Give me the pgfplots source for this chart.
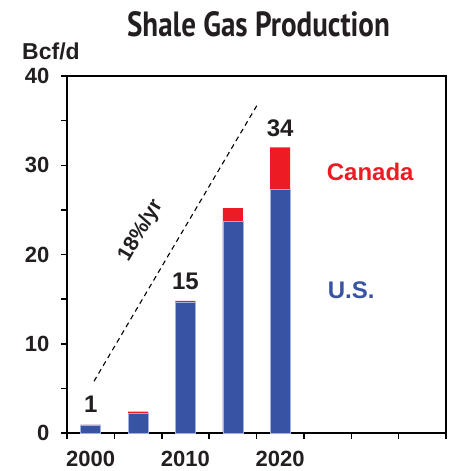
\documentclass[border=0pt]{standalone}
\usepackage{fontspec}
\setmainfont{Liberation Sans}
\newfontfamily\titlefont{PT Sans}
\usepackage{graphicx}
\usepackage{pgfplots}
\pgfplotsset{compat=1.18}
\definecolor{usblue}{HTML}{3953A4}
\definecolor{usedge}{HTML}{A3B0DA}
\definecolor{canred}{HTML}{ED1C24}
\definecolor{txt}{HTML}{231F20}
\begin{document}
\begin{tikzpicture}
\begin{axis}[
  at={(0pt,0pt)}, anchor=south west,
  scale only axis, width=379pt, height=357pt,
  xmin=1997.5, xmax=2037.5, ymin=0, ymax=40,
  xtick={1997.5,2002.5,...,2037.5}, xticklabels={},
  extra x ticks={2000,2010,2020}, extra x tick labels={2000,2010,2020},
  extra x tick style={major tick length=0pt},
  ytick={0,10,20,30,40}, minor ytick={5,15,25,35},
  tick pos=left, tick align=outside,
  major tick length=6pt, minor tick length=6pt,
  every tick/.style={black, line width=1.5pt},
  axis line style={line width=1.6pt},
  ticklabel style={font=\bfseries\fontsize{22}{22}\selectfont, text=txt},
  yticklabel style={xshift=-8pt},
  xticklabel style={yshift=-15pt},
  /pgf/number format/assume math mode=true,
  clip=false,
]
% total (US + Canada) drawn in red, US over it in blue
\addplot[ybar, bar width=20pt, bar shift=0pt, fill=canred, draw=none]
  coordinates {(2000,0.9) (2005,2.4) (2010,14.8) (2015,25.2) (2020,32.0)};
\addplot[ybar, bar width=20pt, bar shift=0pt, fill=usblue, draw=usedge, line width=0.6pt]
  coordinates {(2000,0.9) (2005,2.2) (2010,14.6) (2015,23.7) (2020,27.3)};
\addplot[black, dashed, line width=1.1pt, dash pattern=on 5pt off 4pt, mark=none]
  coordinates {(2000.35,5.8) (2017.6,36.8)};
\node[text=txt, font=\bfseries\fontsize{24}{24}\selectfont] at (axis cs:2000,3.25) {1};
\node[text=txt, font=\bfseries\fontsize{24}{24}\selectfont] at (axis cs:2010,17.0) {15};
\node[text=txt, font=\bfseries\fontsize{24}{24}\selectfont] at (axis cs:2020,34.1) {34};
\node[text=txt, rotate=59.5, font=\bfseries\fontsize{21}{21}\selectfont] at (axis cs:2005.3,22.7) {18\%/yr};
\node[text=canred, font=\bfseries\fontsize{24}{24}\selectfont] at (axis cs:2029.5,29.2) {Canada};
\node[text=usblue, font=\bfseries\fontsize{24}{24}\selectfont] at (axis cs:2027.5,16.0) {U.S.};
\end{axis}
\node[anchor=base, text=txt] at (191.5pt,396pt)
  {\scalebox{0.83}[1]{\titlefont\bfseries\fontsize{35}{35}\selectfont Shale Gas Production}};
\node[anchor=base west, text=txt, inner sep=0pt] at (-45pt,373pt)
  {\bfseries\fontsize{23}{23}\selectfont Bcf/d};
\pgfresetboundingbox
\path (-67pt,-38pt) rectangle (386pt,433pt);
\end{tikzpicture}
\end{document}
